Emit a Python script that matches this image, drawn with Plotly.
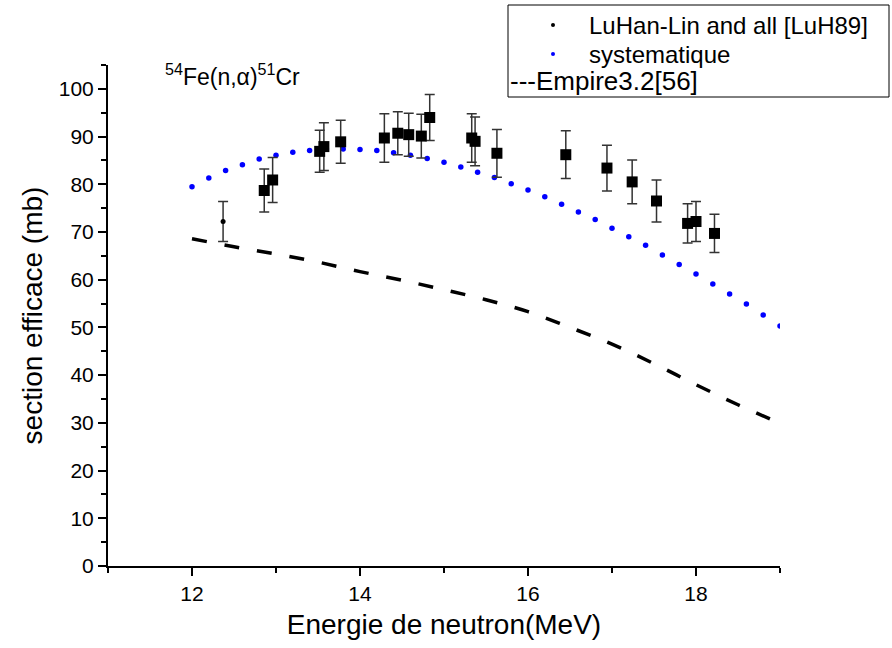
import plotly.graph_objects as go

# ---- data ----
exp_E = [12.86, 12.96, 13.52, 13.57, 13.77, 14.29, 14.45, 14.58, 14.73, 14.83,
         15.33, 15.37, 15.63, 16.45, 16.94, 17.24, 17.53, 17.90, 18.00, 18.22]
exp_sigma = [78.7, 80.9, 86.9, 87.9, 88.9, 89.7, 90.7, 90.4, 90.1, 94.0,
             89.7, 89.0, 86.5, 86.2, 83.4, 80.5, 76.5, 71.8, 72.2, 69.7]
exp_err = [4.5, 4.7, 4.4, 5.0, 4.5, 5.1, 4.5, 4.5, 4.6, 4.8,
           5.1, 5.1, 5.0, 5.0, 4.8, 4.6, 4.4, 4.1, 4.2, 4.0]

luh_E = [12.37]
luh_sigma = [72.2]
luh_err = [4.2]

sys_E = [12.0, 12.2, 12.4, 12.6, 12.8, 13.0, 13.2, 13.4, 13.6, 13.8, 14.0, 14.2,
         14.4, 14.6, 14.8, 15.0, 15.2, 15.4, 15.6, 15.8, 16.0, 16.2, 16.4, 16.6,
         16.8, 17.0, 17.2, 17.4, 17.6, 17.8, 18.0, 18.2, 18.4, 18.6, 18.8, 19.0]
sys_sigma = [79.5, 81.3, 82.9, 84.1, 85.3, 86.1, 86.7, 87.1, 87.4, 87.4, 87.3, 87.1,
             86.6, 86.1, 85.4, 84.6, 83.6, 82.5, 81.4, 80.1, 78.8, 77.4, 75.8, 74.2,
             72.6, 70.8, 69.0, 67.2, 65.2, 63.2, 61.2, 59.1, 57.0, 54.9, 52.6, 50.3]

emp_E = [12.0, 12.5, 13.0, 13.5, 14.0, 14.5, 15.0, 15.5, 16.0, 16.5, 17.0, 17.5, 18.0, 18.5, 19.0]
emp_sigma = [68.6, 66.9, 65.4, 63.7, 61.7, 59.9, 57.9, 55.8, 53.3, 50.0, 46.5, 42.4, 38.0, 33.8, 29.9]

x_ticks = [12, 14, 16, 18]
y_ticks = [0, 10, 20, 30, 40, 50, 60, 70, 80, 90, 100]

FONT = "Arial, Liberation Sans, sans-serif"

fig = go.Figure()

fig.add_trace(go.Scatter(
    x=emp_E, y=emp_sigma, mode="lines",
    line=dict(color="black", width=3.5, dash="15px,18px", shape="spline"),
    showlegend=False, hoverinfo="skip"))

fig.add_trace(go.Scatter(
    x=sys_E, y=sys_sigma, mode="markers",
    marker=dict(color="#0000ff", size=5.5),
    showlegend=False))

fig.add_trace(go.Scatter(
    x=exp_E, y=exp_sigma, mode="markers",
    marker=dict(color="black", size=11, symbol="square"),
    error_y=dict(type="data", array=exp_err, visible=True,
                 color="#333333", thickness=1.5, width=5),
    showlegend=False))

fig.add_trace(go.Scatter(
    x=luh_E, y=luh_sigma, mode="markers",
    marker=dict(color="black", size=5),
    error_y=dict(type="data", array=luh_err, visible=True,
                 color="#333333", thickness=1.5, width=5),
    showlegend=False))

# plot area in pixels: x 108..780, y 65..566
L, R, T, B = 108, 780, 65, 566
W, H = R - L, B - T


def px(x):
    return (x - L) / W


def py(y):
    return (B - y) / H


shapes = [
    dict(type="rect", xref="paper", yref="paper",
         x0=px(508), x1=px(889), y0=py(97), y1=py(5),
         line=dict(color="black", width=1), fillcolor="white", layer="above"),
    dict(type="circle", xref="paper", yref="paper", xsizemode="pixel", ysizemode="pixel",
         xanchor=px(553), yanchor=py(25), x0=-2, x1=2, y0=-2, y1=2,
         fillcolor="black", line=dict(width=0), layer="above"),
    dict(type="circle", xref="paper", yref="paper", xsizemode="pixel", ysizemode="pixel",
         xanchor=px(553), yanchor=py(54), x0=-2, x1=2, y0=-2, y1=2,
         fillcolor="#0000ff", line=dict(width=0), layer="above"),
]

annotations = [
    dict(text="LuHan-Lin and all [LuH89]", xref="paper", yref="paper",
         x=px(587), y=py(25), xanchor="left", yanchor="middle", showarrow=False,
         font=dict(family=FONT, size=24, color="black")),
    dict(text="systematique", xref="paper", yref="paper",
         x=px(587), y=py(54), xanchor="left", yanchor="middle", showarrow=False,
         font=dict(family=FONT, size=24, color="black")),
    dict(text="---Empire3.2[56]", xref="paper", yref="paper",
         x=px(508), y=py(81), xanchor="left", yanchor="middle", showarrow=False,
         font=dict(family=FONT, size=26, color="black")),
    dict(text="<sup>54</sup>Fe(n,α)<sup>51</sup>Cr", xref="paper", yref="paper",
         x=px(163), y=py(75), xanchor="left", yanchor="middle", showarrow=False,
         font=dict(family=FONT, size=23, color="black")),
]

fig.update_layout(
    width=892, height=648,
    margin=dict(l=L, r=892 - R, t=T, b=648 - B, pad=0),
    paper_bgcolor="white", plot_bgcolor="white",
    font=dict(family=FONT, color="black"),
    showlegend=False,
    shapes=shapes,
    annotations=annotations,
    xaxis=dict(
        range=[11, 19], tickvals=x_ticks, ticktext=[str(v) for v in x_ticks],
        showgrid=False, zeroline=False, showline=True, linecolor="black", linewidth=2,
        ticks="outside", ticklen=8, tickwidth=1.5, tickcolor="black",
        minor=dict(dtick=1, tick0=11, ticks="outside", ticklen=5, tickwidth=1.5, tickcolor="black"),
        tickfont=dict(family=FONT, size=21),
        title=dict(text="Energie de neutron(MeV)", font=dict(family=FONT, size=28), standoff=10),
    ),
    yaxis=dict(
        range=[0, 105], tickvals=y_ticks, ticktext=[str(v) for v in y_ticks],
        showgrid=False, zeroline=False, showline=True, linecolor="black", linewidth=2,
        ticks="outside", ticklen=8, tickwidth=1.5, tickcolor="black",
        minor=dict(dtick=5, tick0=0, ticks="outside", ticklen=5, tickwidth=1.5, tickcolor="black"),
        tickfont=dict(family=FONT, size=21),
        title=dict(text="section efficace (mb)", font=dict(family=FONT, size=28), standoff=8),
    ),
)

fig.write_html("out.html")
